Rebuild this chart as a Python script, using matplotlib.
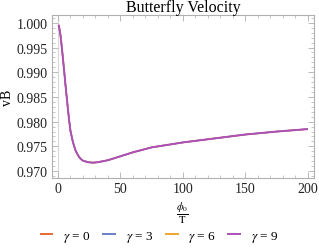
import matplotlib
matplotlib.use("Agg")
import matplotlib.pyplot as plt
from matplotlib.ticker import MultipleLocator, FormatStrFormatter

phi_over_T = [0.5, 1, 2, 3, 4, 5, 6, 7, 8, 9, 10, 12, 14, 16, 18, 20, 24, 28, 32,
              40, 50, 60, 75, 100, 125, 150, 175, 200]
vB_common = [0.9996, 0.9990, 0.9975, 0.9952, 0.9927, 0.9901, 0.9874, 0.9849, 0.9824,
             0.9801, 0.9781, 0.9758, 0.9742, 0.9732, 0.9725, 0.9721, 0.9718, 0.9717,
             0.9718, 0.9722, 0.9730, 0.9738, 0.9748, 0.9758, 0.9766, 0.9774, 0.9780,
             0.9785]
vB_g0 = list(vB_common)
vB_g3 = list(vB_common)
vB_g6 = list(vB_common)
vB_g9 = list(vB_common)
labels = [r"$\gamma$ = 0", r"$\gamma$ = 3", r"$\gamma$ = 6", r"$\gamma$ = 9"]
colors = ["#E8692F", "#6A7FC7", "#F2A428", "#AB50B8"]
widths = [1.0, 1.0, 1.0, 1.4]

plt.rcParams['font.family'] = ['Liberation Serif', 'DejaVu Serif']
plt.rcParams['mathtext.fontset'] = 'stix'

fig = plt.figure(figsize=(3.19, 2.53), dpi=100)
ax = fig.add_axes([0.163, 0.2925, 0.821, 0.6445])

handles = []
for ys, lab, c, w in zip([vB_g0, vB_g3, vB_g6, vB_g9], labels, colors, widths):
    ax.plot(phi_over_T, ys, color=c, lw=w, solid_capstyle='butt')
    h, = ax.plot([], [], color=c, lw=1.4, label=lab)
    handles.append(h)

ax.axvline(0, color='#d8d8d8', lw=0.8, zorder=0)
ax.set_xlim(-4.8, 204.8)
ax.set_ylim(0.9686, 1.0016)

ax.xaxis.set_major_locator(MultipleLocator(50))
ax.xaxis.set_minor_locator(MultipleLocator(10))
ax.yaxis.set_major_locator(MultipleLocator(0.005))
ax.yaxis.set_minor_locator(MultipleLocator(0.001))
ax.yaxis.set_major_formatter(FormatStrFormatter('%.3f'))

for s in ax.spines.values():
    s.set_color('#b0b0b0')
    s.set_linewidth(0.8)
ax.tick_params(which='both', direction='in', top=True, right=True, color='#b0b0b0',
               labelsize=10, labelcolor='#222222')
ax.tick_params(which='major', length=4, width=0.6, pad=3)
ax.tick_params(which='minor', length=2, width=0.5)

ax.set_title("Butterfly Velocity", fontsize=11.5, pad=1)
ax.set_ylabel("vB", fontsize=10, va='center')
ax.yaxis.set_label_coords(-0.168, 0.5)
ax.set_xlabel(r"$\frac{\phi_0}{\mathrm{T}}$", fontsize=11, labelpad=3)

fig.legend(handles, labels, loc='center', bbox_to_anchor=(0.5, 0.063), ncol=4,
           frameon=False, fontsize=9.5, handlelength=0.9, columnspacing=0.95,
           handletextpad=0.8)

fig.savefig("out.png", dpi=100)
